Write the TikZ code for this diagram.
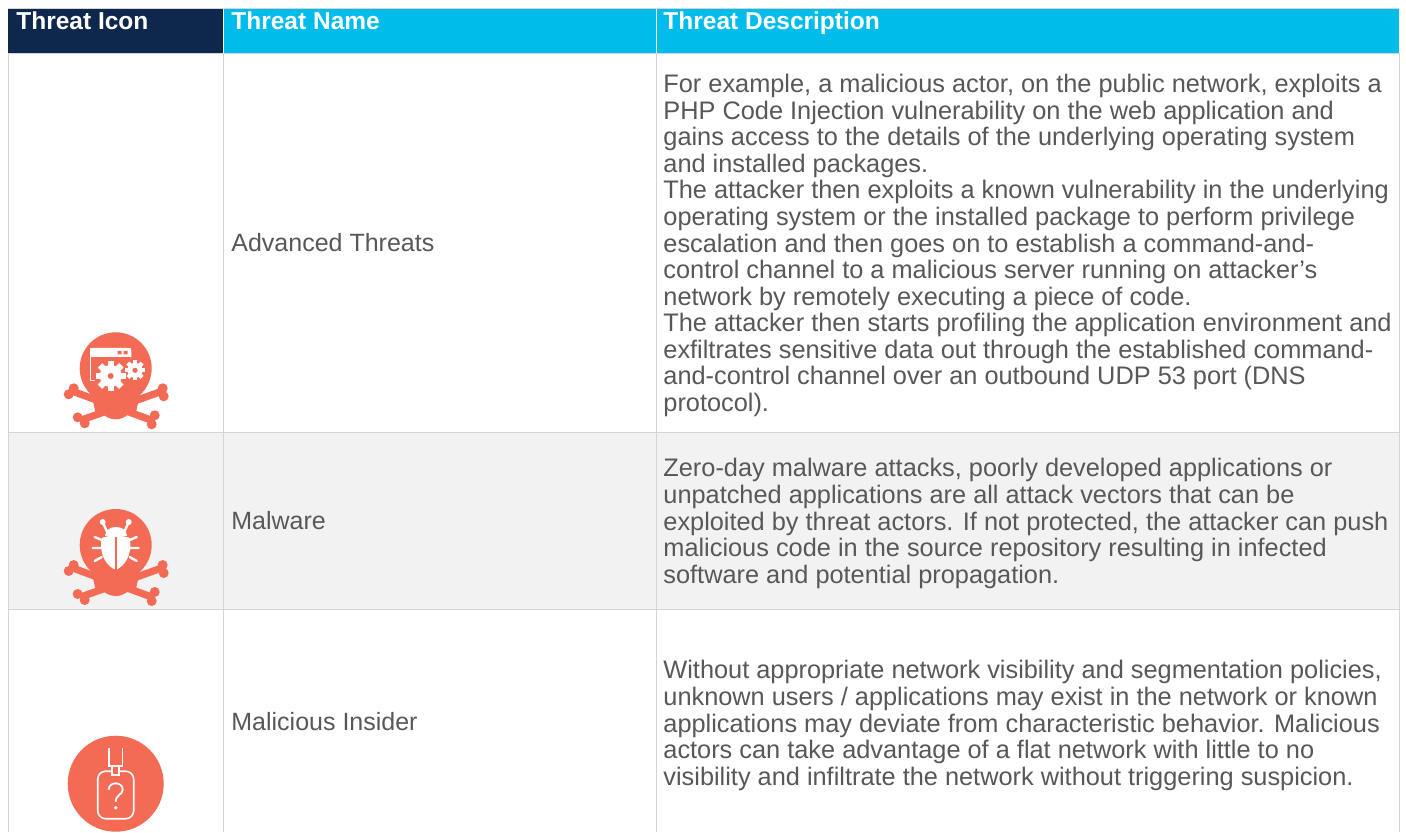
\documentclass[tikz,border=0pt]{standalone}
\usepackage{fontspec}
\setmainfont{Liberation Sans}
\definecolor{navy}{HTML}{0D274D}
\definecolor{cyanhead}{HTML}{00BCEB}
\definecolor{gridc}{HTML}{D4D4D4}
\definecolor{rowgray}{HTML}{F2F2F2}
\definecolor{txt}{HTML}{58585B}
\definecolor{coral}{HTML}{F46B55}
\newcommand{\gearshape}[3]{% centre, outer radius, inner radius
  \foreach \a in {0,45,...,315}{
    \fill[white,rotate around={\a:(#1)}] ([shift={(-#2*0.2,-#2)}]#1) rectangle ([shift={(#2*0.2,#2)}]#1);}
  \fill[white] (#1) circle (#3);}
\newcommand{\skullbones}{%
    \fill[coral] (0,0) circle (36);
    \fill[coral] (0,33) circle (18);
    \fill[coral] (-27,14) -- (27,14) -- (20,45) -- (-20,45) -- cycle;
    \draw[bone] (-43,23) -- (36,52);
    \draw[bone] (46,23) -- (-35,52);
    \fill[coral] (-42,20) circle (5) (-47,26) circle (5);
    \fill[coral] (47,20) circle (5) (48,28) circle (5);
    \fill[coral] (-38,49) circle (5) (-31,55) circle (5);
    \fill[coral] (39,47) circle (5) (36,56) circle (5);
}
\tikzset{
  x=0.5pt,y=-0.5pt,
  headtxt/.style={anchor=base west,inner sep=0pt,text=white,font=\fontsize{12.25}{13}\selectfont\bfseries},
  nametxt/.style={anchor=west,inner sep=0pt,text=txt,font=\fontsize{12.5}{13}\selectfont},
  desctxt/.style={anchor=west,inner sep=0pt,text=txt,align=left,font=\fontsize{12.67}{13.27}\selectfont},
  gridline/.style={draw=gridc,line width=0.5pt},
  bone/.style={draw=coral,line width=3.6pt},
}
\begin{document}
\begin{tikzpicture}
\useasboundingbox (0,0) rectangle (1406,832);
\fill[white] (0,0) rectangle (1406,832);
% header
\fill[navy] (8,8) rectangle (223,53);
\fill[cyanhead] (223,8) rectangle (1399,53);
\fill[rowgray] (8,432) rectangle (1399,609);
% grid
\foreach \xx in {8,223,656,1399}{\draw[gridline] (\xx,53) -- (\xx,832);}
\foreach \yy in {53,432,609}{\draw[gridline] (8,\yy) -- (1399,\yy);}
\draw[white,line width=0.5pt] (223,8) -- (223,53) (656,8) -- (656,53);
\draw[gridc,line width=0.5pt] (8,8) -- (1399,8);
% header text
\node[headtxt] (h1) at (16,29) {Threat Icon};
\node[headtxt] (h2) at (231,29) {Threat Name};
\node[headtxt] (h3) at (663,29) {Threat Description};
% names
\node[nametxt] (n1) at (231,243) {Advanced Threats};
\node[nametxt] (n2) at (231,521) {Malware};
\node[nametxt] (n3) at (231,722) {Malicious Insider};
% descriptions
\node[desctxt] (d1) at (663,245.5) {For example, a malicious actor, on the public network, exploits a\\
PHP Code Injection vulnerability on the web application and\\
gains access to the details of the underlying operating system\\
and installed packages.\\
The attacker then exploits a known vulnerability in the underlying\\
operating system or the installed package to perform privilege\\
escalation and then goes on to establish a command-and-\\
control channel to a malicious server running on attacker’s\\
network by remotely executing a piece of code.\\
The attacker then starts profiling the application environment and\\
exfiltrates sensitive data out through the established command-\\
and-control channel over an outbound UDP 53 port (DNS\\
protocol).};
\node[desctxt] (d2) at (663,523.5) {Zero-day malware attacks, poorly developed applications or\\
unpatched applications are all attack vectors that can be\\
exploited by threat actors. If not protected, the attacker can push\\
malicious code in the source repository resulting in infected\\
software and potential propagation.};
\node[desctxt] (d3) at (663,725.5) {Without appropriate network visibility and segmentation policies,\\
unknown users / applications may exist in the network or known\\
applications may deviate from characteristic behavior. Malicious\\
actors can take advantage of a flat network with little to no\\
visibility and infiltrate the network without triggering suspicion.};
% icon 1
\begin{scope}[shift={(115.7,368.3)}]
  \skullbones
  \draw[white,line width=0.7pt] (-25,-14) -- (-25,12) -- (-14,12);
  \fill[white] (-25.3,-20) rectangle (15,-11);
  \draw[white,line width=0.7pt,rounded corners=1] (-25,-12) -- (-25,-19.7) -- (15,-19.7) -- (15,-11);
  \fill[coral] (2,-17.5) rectangle (6,-14) (8,-17.5) rectangle (12,-14);
  \fill[coral] (-5,7.7) circle (16.5);
  \fill[coral] (19.3,2) circle (11.5);
  \gearshape{-5,7.7}{15}{11}
  \fill[coral] (-5,7.7) circle (3);
  \gearshape{19.3,2}{10}{7.5}
  \fill[coral] (19.3,2) circle (2.6);
\end{scope}
% icon 2
\begin{scope}[shift={(115.7,545)}]
  \skullbones
  \draw[white,line width=1.2pt,line cap=round]
    (-9,-14) -- (-13,-23) (9,-14) -- (13,-23)
    (-14,-5) -- (-21,-8) (14,-5) -- (21,-8)
    (-15,3) -- (-23,3) (15,3) -- (23,3)
    (-14,12) -- (-21,16) (14,12) -- (21,16);
  \fill[white] (-13,-23) circle (3) (13,-23) circle (3);
  \fill[white] (-11,-9) .. controls (-11,-21) and (11,-21) .. (11,-9) -- cycle;
  \fill[white] (-14,-7) .. controls (-8,-10) and (8,-10) .. (14,-7)
     .. controls (17,10) and (9,21) .. (0,25) .. controls (-9,21) and (-17,10) .. (-14,-7) -- cycle;
  \draw[coral,line width=0.8pt] (0,-8) -- (0,25);
\end{scope}
% icon 3
\fill[coral] (115.7,783.7) circle (48);
\begin{scope}[shift={(115.7,783.7)}]
  \draw[white,line width=0.8pt,rounded corners=4] (-18,-12.5) rectangle (18,35);
  \draw[white,line width=0.8pt] (-6.7,-36) -- (-6.7,-18) -- (6.7,-18) -- (6.7,-36);
  \fill[coral] (-3.5,-18) rectangle (3,-9);
  \draw[white,line width=0.8pt] (-3.5,-18) rectangle (3,-9);
  \draw[white,line width=0.9pt] (-7,6) .. controls (-7,-2.5) and (7,-2.5) .. (7,6)
     .. controls (7,11) and (0,11) .. (0,18);
  \fill[white] (0,24) circle (1.9);
\end{scope}
\end{tikzpicture}
\end{document}
